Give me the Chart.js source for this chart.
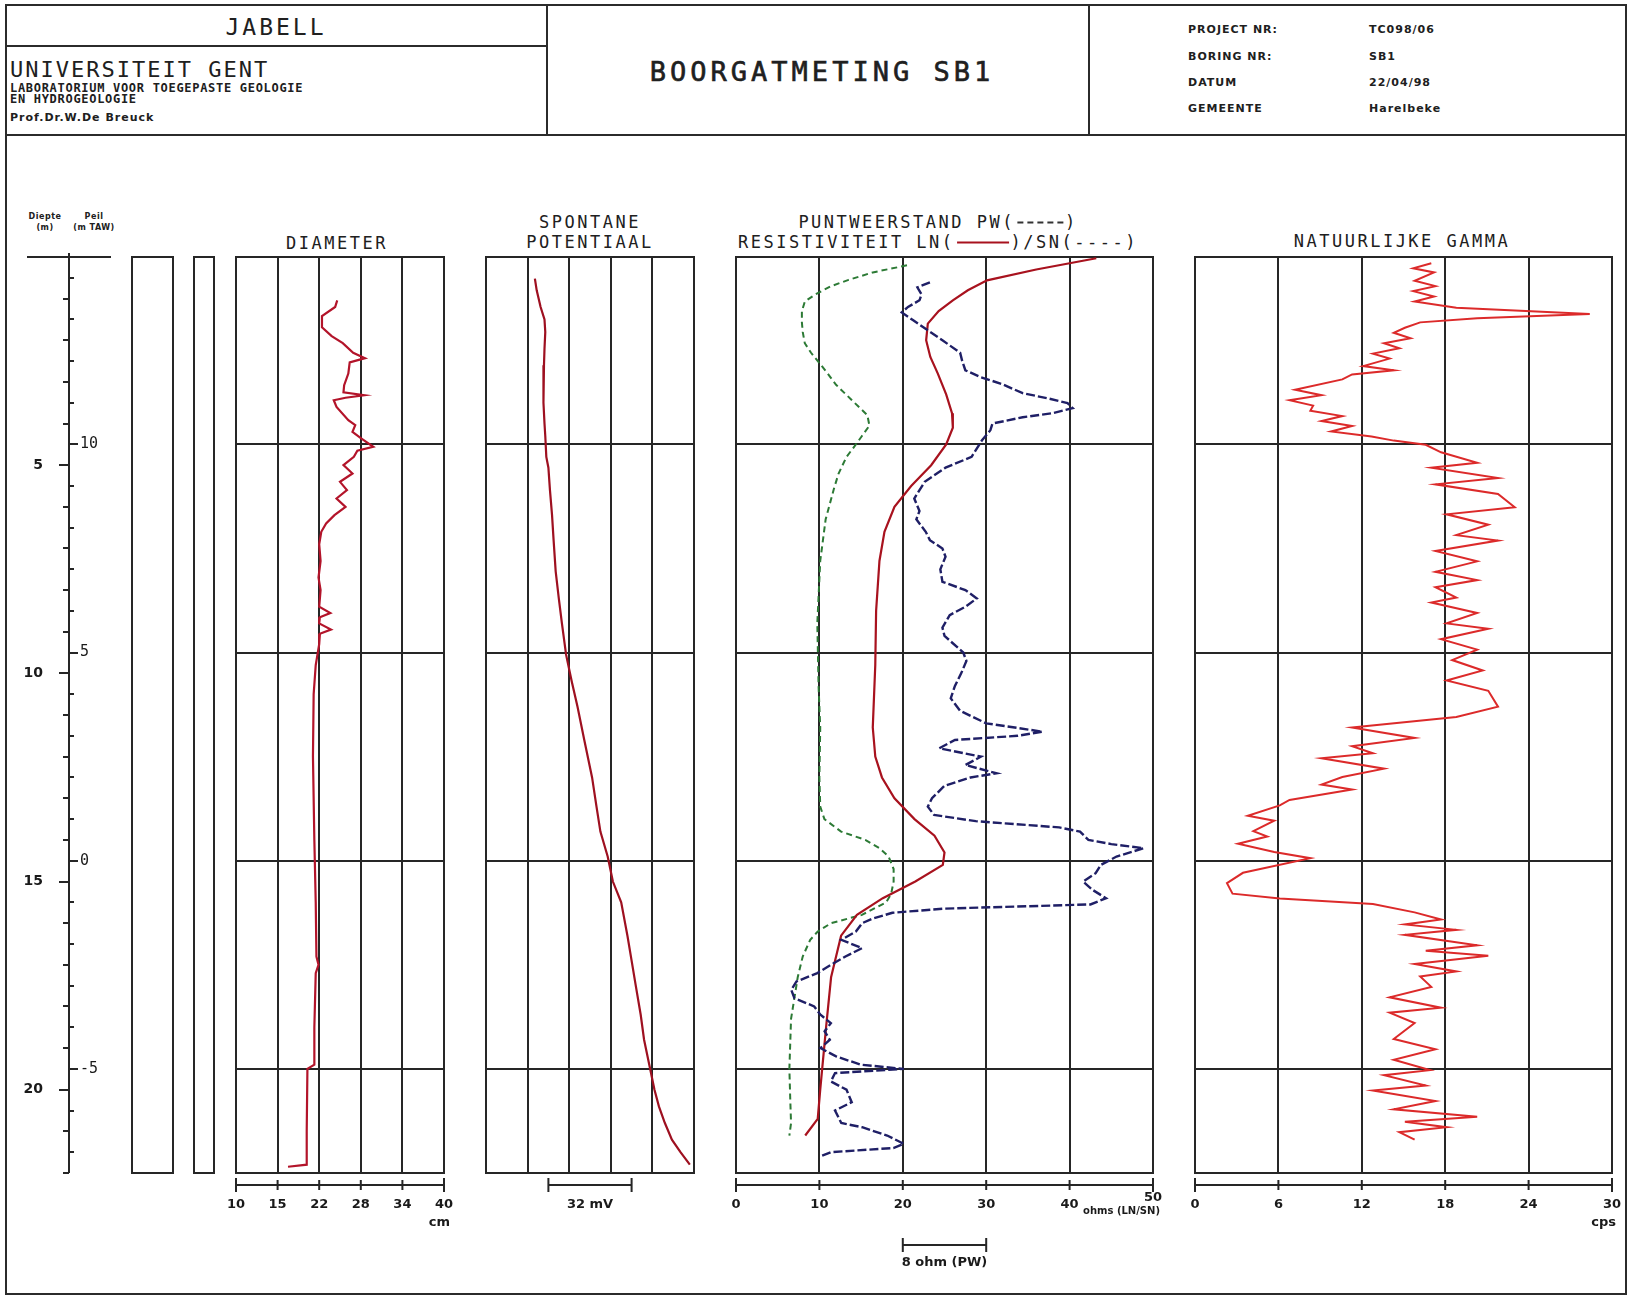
<!DOCTYPE html>
<html>
<head>
<meta charset="utf-8">
<title>Boorgatmeting SB1</title>
<script src="https://cdn.jsdelivr.net/npm/chart.js@4.4.0/dist/chart.umd.min.js"></script>
<style>
body{margin:0;background:#fff;}
#sheet{position:relative;width:1629px;height:1297px;overflow:hidden;background:#fff;color:#202020;font-family:"DejaVu Sans Mono",monospace;}
.ln{position:absolute;background:#2b2b2b;}
.t{position:absolute;white-space:nowrap;line-height:1;}
.c{transform:translate(-50%,-50%);}
.l{transform:translateY(-50%);}
.big{font-size:23px;letter-spacing:3px;}
.uni{font-size:22px;letter-spacing:2px;}
.lab{font-size:12px;font-weight:bold;letter-spacing:0.7px;}
.sm{font-family:"DejaVu Sans",sans-serif;font-size:11px;font-weight:bold;letter-spacing:1px;}
.ttl{font-size:17px;letter-spacing:2.5px;}
.key{display:inline-block;width:52px;height:0;vertical-align:middle;margin:0 2px;}
canvas{position:absolute;}
</style>
</head>
<body>
<div id="sheet">
  <!-- sheet frame and header -->
  <div class="ln" style="left:5px;top:4px;width:1622px;height:2px"></div>
  <div class="ln" style="left:5px;top:1293px;width:1622px;height:2px"></div>
  <div class="ln" style="left:5px;top:4px;width:2px;height:1291px"></div>
  <div class="ln" style="left:1625px;top:4px;width:2px;height:1291px"></div>
  <div class="ln" style="left:5px;top:134px;width:1622px;height:2px"></div>
  <div class="ln" style="left:5px;top:45px;width:542px;height:2px"></div>
  <div class="ln" style="left:546px;top:4px;width:2px;height:131px"></div>
  <div class="ln" style="left:1088px;top:4px;width:2px;height:131px"></div>

  <div class="t c big" style="left:276px;top:27px">JABELL</div>
  <div class="t l uni" style="left:10px;top:70px">UNIVERSITEIT GENT</div>
  <div class="t l lab" style="left:10px;top:88px">LABORATORIUM VOOR TOEGEPASTE GEOLOGIE</div>
  <div class="t l lab" style="left:10px;top:99px">EN HYDROGEOLOGIE</div>
  <div class="t l sm" style="left:10px;top:117px">Prof.Dr.W.De Breuck</div>

  <div class="t c" style="left:822px;top:71px;font-size:27px;letter-spacing:4px;-webkit-text-stroke:0.6px #202020">BOORGATMETING SB1</div>

  <div class="t l sm" style="left:1188px;top:29px">PROJECT NR:</div>
  <div class="t l sm" style="left:1188px;top:56px">BORING NR:</div>
  <div class="t l sm" style="left:1188px;top:82px">DATUM</div>
  <div class="t l sm" style="left:1188px;top:108px">GEMEENTE</div>
  <div class="t l sm" style="left:1369px;top:29px">TC098/06</div>
  <div class="t l sm" style="left:1369px;top:56px">SB1</div>
  <div class="t l sm" style="left:1369px;top:82px">22/04/98</div>
  <div class="t l sm" style="left:1369px;top:108px">Harelbeke</div>

  <!-- track titles -->
  <div class="t c sm" style="left:45px;top:217px;font-size:8px;letter-spacing:0.5px">Diepte</div>
  <div class="t c sm" style="left:45px;top:228px;font-size:8px;letter-spacing:0.5px">(m)</div>
  <div class="t c sm" style="left:94px;top:217px;font-size:8px;letter-spacing:0.5px">Peil</div>
  <div class="t c sm" style="left:94px;top:228px;font-size:8px;letter-spacing:0.5px">(m TAW)</div>

  <div class="t c ttl" style="left:337px;top:243px">DIAMETER</div>
  <div class="t c ttl" style="left:590px;top:222px">SPONTANE</div>
  <div class="t c ttl" style="left:590px;top:242px">POTENTIAAL</div>
  <div class="t c ttl" style="left:938px;top:222px">PUNTWEERSTAND PW(<span class="key" style="width:46px;border-top:2px dashed #333"></span>)</div>
  <div class="t c ttl" style="left:938px;top:242px">RESISTIVITEIT LN(<span class="key" style="border-top:2px solid #a8121e"></span>)/SN(----)</div>
  <div class="t c ttl" style="left:1402px;top:241px">NATUURLIJKE GAMMA</div>

  <canvas id="depthCol" width="230" height="1037" style="left:0;top:253px"></canvas>
  <canvas id="diaTrack" width="268" height="1037" style="left:206px;top:253px"></canvas>
  <canvas id="spTrack" width="268" height="1037" style="left:456px;top:253px"></canvas>
  <canvas id="resTrack" width="477" height="1037" style="left:706px;top:253px"></canvas>
  <canvas id="gamTrack" width="460" height="1037" style="left:1165px;top:253px"></canvas>
</div>

<script>
// depth of the log in metres below surface, surface level in m TAW
const depthMax = 22;
const maaiveld = 14.5;
const peilGrid = [10, 5, 0, -5];

// diameter (cm) : [depth m, cm]
const diaTicks = [10, 16, 22, 28, 34, 40];
const diaTickLabels = ['10', '15', '22', '28', '34', '40'];
const diameter = [
  [1.04, 24.6], [1.2, 24.3], [1.42, 22.4], [1.69, 22.4], [1.9, 23.8], [2.07, 25.4], [2.3, 26.9],
  [2.43, 28.6], [2.53, 26.4], [2.8, 26.2], [3.08, 25.6], [3.25, 25.5], [3.32, 28.5], [3.38, 25.8],
  [3.44, 24.1], [3.6, 24.5], [3.92, 26.2], [4.04, 27.2], [4.2, 26.8], [4.35, 28.0], [4.56, 29.8],
  [4.65, 27.5], [4.8, 27.0], [5.0, 25.5], [5.2, 26.8], [5.4, 25.0], [5.6, 26.0], [5.8, 24.5],
  [6.0, 25.8], [6.2, 24.2], [6.4, 23.0], [6.6, 22.3], [6.9, 22.0], [7.3, 22.2], [7.7, 21.9],
  [8.0, 22.2], [8.4, 22.0], [8.55, 23.6], [8.65, 22.1], [8.8, 22.0], [8.95, 23.7], [9.05, 22.1],
  [9.3, 22.0], [9.8, 21.5], [10.5, 21.2], [12.0, 21.1], [14.0, 21.3], [15.5, 21.5], [16.8, 21.6],
  [17.0, 21.9], [17.2, 21.5], [18.5, 21.3], [19.4, 21.3], [19.5, 20.3], [21.0, 20.2], [21.8, 20.2],
  [21.85, 17.5]
];

// spontane potentiaal (mV, 16 mV per division)
const spGrid = [16, 32, 48, 64];
const spBar = [24, 56];
const spontPot = [
  [0.52, 18.8], [0.8, 19.5], [1.2, 21.0], [1.5, 22.5], [1.8, 22.8], [2.2, 22.5], [2.6, 22.3],
  [3.0, 22.0], [3.5, 22.2], [4.0, 22.5], [4.3, 22.8], [4.8, 23.2], [5.06, 24.0], [5.6, 24.6],
  [6.2, 25.4], [6.8, 26.0], [7.55, 26.8], [8.2, 28.0], [8.8, 29.2], [9.55, 30.8], [10.2, 33.0],
  [10.8, 35.2], [11.6, 37.8], [12.5, 40.8], [13.2, 42.5], [13.8, 44.0], [14.4, 46.8], [15.0, 48.8],
  [15.5, 52.0], [16.3, 54.4], [16.9, 56.0], [17.5, 57.6], [18.2, 59.5], [18.8, 60.8], [19.4, 62.8],
  [20.0, 64.8], [20.4, 66.5], [20.8, 68.8], [21.2, 71.5], [21.5, 74.8], [21.8, 78.4]
];

// resistiviteit LN / SN (ohm.m, 0-50) and puntweerstand PW (ohm, 8 per division)
const resTicks = [0, 10, 20, 30, 40, 50];
const pwBar = [16, 24];
const longNormal = [
  [0.03, 43.2], [0.3, 36.0], [0.56, 30.1], [0.8, 27.8], [1.04, 26.0], [1.3, 24.3], [1.6, 23.0],
  [2.0, 22.8], [2.4, 23.3], [2.8, 24.2], [3.3, 25.2], [3.75, 25.9], [4.1, 26.0], [4.5, 25.2],
  [5.0, 23.4], [5.5, 21.0], [6.0, 19.0], [6.6, 17.8], [7.3, 17.2], [8.5, 16.8], [9.8, 16.7],
  [11.3, 16.4], [12.0, 16.7], [12.5, 17.5], [13.0, 19.0], [13.5, 21.4], [13.9, 23.8], [14.3, 25.0],
  [14.6, 24.8], [15.0, 21.5], [15.4, 17.6], [15.8, 14.5], [16.3, 12.6], [17.3, 11.4], [18.5, 10.8],
  [20.0, 10.1], [20.7, 9.8], [21.1, 8.3]
];
const shortNormal = [
  [0.2, 20.5], [0.37, 16.4], [0.55, 13.5], [0.7, 11.4], [0.9, 9.5], [1.07, 8.25], [1.3, 7.9],
  [1.57, 7.9], [1.8, 8.0], [2.07, 8.25], [2.3, 9.0], [2.57, 10.1], [2.8, 11.0], [3.07, 12.0],
  [3.44, 13.9], [3.8, 15.75], [4.05, 16.0], [4.3, 15.1], [4.55, 14.2], [4.8, 13.25], [5.2, 12.3],
  [5.56, 11.75], [6.3, 10.75], [7.3, 10.1], [8.8, 9.75], [10.3, 9.9], [11.3, 10.1], [12.5, 10.0],
  [13.2, 10.1], [13.5, 10.6], [13.8, 12.6], [14.0, 15.5], [14.2, 17.2], [14.4, 18.3], [14.7, 18.9],
  [15.0, 18.9], [15.3, 18.6], [15.5, 18.0], [15.8, 15.1], [16.0, 11.4], [16.2, 9.8], [16.4, 8.9],
  [16.8, 8.0], [17.3, 7.4], [18.3, 6.6], [19.5, 6.4], [20.2, 6.5], [20.8, 6.6], [21.1, 6.4]
];
const puntWeerstand = [
  [0.61, 18.6], [0.73, 17.4], [0.9, 17.8], [1.04, 17.6], [1.2, 16.5], [1.33, 15.9], [1.52, 17.0],
  [1.76, 18.4], [2.0, 19.8], [2.3, 21.5], [2.5, 21.7], [2.72, 22.0], [2.88, 23.4], [3.05, 25.5],
  [3.27, 27.5], [3.4, 30.0], [3.51, 31.8], [3.63, 32.3], [3.75, 30.4], [3.85, 27.5], [4.0, 24.6],
  [4.16, 24.4], [4.4, 23.6], [4.8, 22.6], [5.06, 20.1], [5.4, 18.1], [5.8, 17.1], [6.1, 17.6],
  [6.3, 17.3], [6.6, 18.2], [6.8, 18.6], [7.0, 19.8], [7.2, 20.1], [7.5, 19.6], [7.8, 19.8],
  [8.0, 22.0], [8.2, 23.1], [8.4, 22.0], [8.6, 20.5], [8.9, 19.8], [9.1, 20.0], [9.5, 21.8],
  [9.7, 22.1], [10.0, 21.6], [10.3, 21.0], [10.6, 20.6], [10.9, 21.5], [11.2, 24.0], [11.4, 29.4],
  [11.5, 27.0], [11.6, 21.0], [11.8, 19.5], [12.0, 23.5], [12.2, 22.0], [12.4, 25.0], [12.5, 22.5],
  [12.7, 20.0], [13.0, 18.8], [13.2, 18.4], [13.4, 19.0], [13.55, 23.0], [13.7, 31.0], [13.8, 33.0],
  [14.0, 33.8], [14.1, 36.0], [14.2, 39.1], [14.4, 36.5], [14.6, 35.0], [14.8, 34.5], [15.0, 33.3],
  [15.2, 34.2], [15.4, 35.5], [15.55, 34.0], [15.65, 20.0], [15.75, 15.0], [15.9, 13.0], [16.0, 12.1],
  [16.2, 11.5], [16.4, 10.1], [16.6, 12.1], [16.8, 10.5], [17.0, 9.1], [17.2, 7.8], [17.4, 5.8],
  [17.6, 5.3], [17.8, 5.6], [18.0, 7.5], [18.2, 8.1], [18.4, 9.1], [18.6, 8.5], [18.8, 9.0],
  [19.0, 8.1], [19.2, 9.6], [19.4, 12.0], [19.5, 16.1], [19.6, 9.5], [19.8, 9.1], [20.0, 10.6],
  [20.3, 11.1], [20.5, 9.5], [20.8, 10.1], [20.9, 12.1], [21.1, 14.5], [21.3, 16.1], [21.4, 15.1],
  [21.5, 9.1], [21.6, 8.1]
];

// natuurlijke gamma (cps)
const gamTicks = [0, 6, 12, 18, 24, 30];
const gamma = [
  [0.15, 17.0], [0.27, 15.7], [0.37, 17.2], [0.57, 15.8], [0.70, 17.3], [0.82, 15.7], [0.95, 17.2],
  [1.07, 15.8], [1.22, 18.8], [1.37, 28.4], [1.47, 20.3], [1.57, 16.2], [1.70, 15.1], [1.82, 14.3],
  [1.95, 15.5], [2.07, 13.6], [2.19, 14.7], [2.32, 12.8], [2.44, 14.0], [2.62, 12.1], [2.72, 14.3],
  [2.82, 11.3], [2.94, 10.6], [3.19, 7.2], [3.32, 9.1], [3.44, 6.8], [3.57, 8.5], [3.69, 8.3],
  [3.82, 10.6], [3.94, 9.1], [4.06, 11.3], [4.19, 9.8], [4.31, 12.7], [4.41, 14.3], [4.51, 16.6],
  [4.69, 17.7], [4.94, 20.3], [5.06, 17.0], [5.31, 21.8], [5.46, 17.3], [5.69, 21.8], [6.01, 23.0],
  [6.18, 18.1], [6.43, 21.1], [6.68, 18.8], [6.81, 21.8], [7.06, 17.3], [7.31, 20.3], [7.56, 17.3],
  [7.76, 20.3], [7.93, 17.3], [8.18, 18.8], [8.30, 17.0], [8.55, 20.3], [8.80, 18.1], [8.93, 21.1],
  [9.18, 17.7], [9.43, 20.3], [9.68, 18.5], [9.93, 20.7], [10.17, 18.1], [10.42, 21.1], [10.80, 21.8],
  [11.05, 18.8], [11.30, 11.3], [11.55, 15.8], [11.75, 11.3], [11.92, 12.8], [12.04, 9.1], [12.29, 13.6],
  [12.49, 10.6], [12.67, 9.1], [12.79, 11.3], [13.04, 6.8], [13.17, 6.1], [13.42, 3.8], [13.54, 5.7],
  [13.79, 4.2], [13.92, 5.2], [14.09, 3.1], [14.29, 5.7], [14.44, 8.3], [14.79, 3.45], [15.04, 2.3],
  [15.29, 2.7], [15.41, 6.1], [15.54, 12.8], [15.74, 15.8], [15.91, 17.7], [16.03, 15.1], [16.16, 18.8],
  [16.28, 15.1], [16.53, 20.3], [16.66, 16.6], [16.78, 21.1], [16.98, 15.8], [17.16, 18.8], [17.28, 16.2],
  [17.53, 17.0], [17.78, 14.0], [18.03, 17.7], [18.15, 14.0], [18.40, 15.8], [18.78, 14.3], [19.03, 17.3],
  [19.28, 14.3], [19.53, 16.9], [19.65, 13.6], [19.90, 16.6], [20.02, 12.8], [20.27, 17.3], [20.47, 14.3],
  [20.65, 20.3], [20.77, 15.1], [20.90, 18.1], [21.02, 14.7], [21.20, 15.8]
];

const INK = '#262626';
const LABEL_FONT = 'bold 13px "DejaVu Sans", sans-serif';

function pts(series) {
  return series.map(([d, v]) => ({ x: v, y: d }));
}

function hline(ctx, x0, x1, y) { ctx.moveTo(x0, y); ctx.lineTo(x1, y); }
function vline(ctx, x, y0, y1) { ctx.moveTo(x, y0); ctx.lineTo(x, y1); }

// scale bar under a track: line with end ticks, optional inner ticks and labels
function scaleBar(ctx, scale, y, from, to, inner, labels, labelOffset) {
  const x0 = scale.getPixelForValue(from), x1 = scale.getPixelForValue(to);
  ctx.beginPath();
  hline(ctx, x0, x1, y);
  vline(ctx, x0, y - 7, y + 7);
  vline(ctx, x1, y - 7, y + 7);
  (inner || []).forEach(v => {
    const px = scale.getPixelForValue(v);
    vline(ctx, px, y - 5, y + 5);
  });
  ctx.stroke();
  if (labels) {
    ctx.font = LABEL_FONT;
    ctx.textAlign = 'center';
    ctx.textBaseline = 'middle';
    labels.forEach(([v, s, dy]) => ctx.fillText(s, scale.getPixelForValue(v), y + labelOffset + (dy || 0)));
  }
}

// frame, grid and bottom scale of one log track
const trackPlugin = {
  id: 'track',
  beforeDatasetsDraw(chart, args, opts) {
    const { ctx, chartArea: a, scales } = chart;
    const x = scales.x, y = scales.y;
    ctx.save();
    ctx.strokeStyle = INK;
    ctx.fillStyle = '#1a1a1a';
    ctx.lineWidth = 2;
    ctx.beginPath();
    ctx.rect(a.left, a.top, a.right - a.left, a.bottom - a.top);
    (opts.grid || []).forEach(v => vline(ctx, Math.round(x.getPixelForValue(v)), a.top, a.bottom));
    peilGrid.forEach(p => hline(ctx, a.left, a.right, Math.round(y.getPixelForValue(maaiveld - p))));
    ctx.stroke();

    const ay = a.bottom + 12;
    if (opts.ticks) {
      const t = opts.ticks;
      const lastDy = opts.lastLabelDy || 0;
      scaleBar(ctx, x, ay, t[0], t[t.length - 1], t.slice(1, -1),
        t.map((v, i) => [v, (opts.tickLabels || t)[i] + '', i === t.length - 1 ? lastDy : 0]), 20);
    }
    if (opts.bar) {
      const s = scales[opts.bar.axis];
      scaleBar(ctx, s, ay + opts.bar.dy, opts.bar.from, opts.bar.to, [],
        [[(opts.bar.from + opts.bar.to) / 2, opts.bar.label]], opts.bar.dy ? 18 : 20);
    }
    if (opts.unit) {
      ctx.font = opts.unitFont || LABEL_FONT;
      ctx.textAlign = 'right';
      ctx.textBaseline = 'middle';
      ctx.fillText(opts.unit, a.right + opts.unitDx, ay + opts.unitDy);
    }
    ctx.restore();
  }
};

// depth and peil axis plus the two empty columns
const depthPlugin = {
  id: 'depthAxis',
  afterDraw(chart) {
    const { ctx, chartArea: a, scales: { y } } = chart;
    const ax = 69;
    ctx.save();
    ctx.strokeStyle = INK;
    ctx.fillStyle = '#1a1a1a';
    ctx.lineWidth = 2;
    ctx.beginPath();
    vline(ctx, ax, 0, a.bottom);
    hline(ctx, 27, 111, a.top);
    for (let d = 1; d <= depthMax; d++) {
      const py = Math.round(y.getPixelForValue(d));
      hline(ctx, d % 5 === 0 ? 59 : 63, ax, py);
    }
    for (let p = Math.floor(maaiveld); maaiveld - p <= depthMax; p--) {
      const py = Math.round(y.getPixelForValue(maaiveld - p));
      hline(ctx, ax, p % 5 === 0 ? 78 : 74, py);
    }
    ctx.rect(132, a.top, 41, a.bottom - a.top);
    ctx.rect(194, a.top, 20, a.bottom - a.top);
    ctx.stroke();

    ctx.textBaseline = 'middle';
    ctx.font = 'bold 14px "DejaVu Sans", sans-serif';
    ctx.textAlign = 'right';
    for (let d = 5; d <= depthMax; d += 5) ctx.fillText(String(d), 43, y.getPixelForValue(d));
    ctx.font = '15px "DejaVu Sans Mono", monospace';
    ctx.textAlign = 'left';
    peilGrid.forEach(p => ctx.fillText(String(p), 80, y.getPixelForValue(maaiveld - p)));
    ctx.restore();
  }
};

function baseOptions(pad, xMin, xMax, trackOpts) {
  return {
    responsive: false,
    animation: false,
    events: [],
    layout: { padding: pad },
    scales: {
      x: { type: 'linear', min: xMin, max: xMax, display: false },
      y: { type: 'linear', min: 0, max: depthMax, reverse: true, display: false }
    },
    plugins: { legend: { display: false }, tooltip: { enabled: false }, track: trackOpts }
  };
}

function line(series, color, width, extra) {
  return Object.assign({
    data: pts(series), showLine: true, pointRadius: 0, borderColor: color,
    borderWidth: width, tension: 0, fill: false
  }, extra || {});
}

const pad = { left: 30, right: 30, top: 4, bottom: 117 };

new Chart('depthCol', {
  type: 'scatter',
  data: { datasets: [] },
  options: baseOptions({ left: 27, right: 5, top: 4, bottom: 117 }, 0, 1, false),
  plugins: [depthPlugin]
});

new Chart('diaTrack', {
  type: 'scatter',
  data: { datasets: [line(diameter, '#b3142a', 2.2)] },
  options: baseOptions(pad, 10, 40, {
    grid: diaTicks.slice(1, -1), ticks: diaTicks, tickLabels: diaTickLabels,
    unit: 'cm', unitDx: 6, unitDy: 38
  }),
  plugins: [trackPlugin]
});

new Chart('spTrack', {
  type: 'scatter',
  data: { datasets: [line(spontPot, '#9e1020', 2.2)] },
  options: baseOptions(pad, 0, 80, {
    grid: spGrid, bar: { axis: 'x', from: spBar[0], to: spBar[1], label: '32 mV', dy: 0 }
  }),
  plugins: [trackPlugin]
});

const resOptions = baseOptions(pad, 0, 50, {
  grid: resTicks.slice(1, -1), ticks: resTicks, lastLabelDy: -7,
  bar: { axis: 'x2', from: pwBar[0], to: pwBar[1], label: '8 ohm (PW)', dy: 60 },
  unit: 'ohms (LN/SN)', unitDx: 7, unitDy: 26,
  unitFont: 'bold 10px "DejaVu Sans", sans-serif'
});
resOptions.scales.x2 = { type: 'linear', min: 0, max: 40, display: false };

new Chart('resTrack', {
  type: 'scatter',
  data: {
    datasets: [
      line(puntWeerstand, '#1f1f66', 2.4, { xAxisID: 'x2', borderDash: [9, 3] }),
      line(longNormal, '#a8121e', 2.2),
      line(shortNormal, '#2c7a35', 2, { borderDash: [6, 4] })
    ]
  },
  options: resOptions,
  plugins: [trackPlugin]
});

new Chart('gamTrack', {
  type: 'scatter',
  data: { datasets: [line(gamma, '#dc2a2a', 2)] },
  options: baseOptions({ left: 30, right: 13, top: 4, bottom: 117 }, 0, 30, {
    grid: gamTicks.slice(1, -1), ticks: gamTicks, unit: 'cps', unitDx: 4, unitDy: 38
  }),
  plugins: [trackPlugin]
});
</script>
</body>
</html>
